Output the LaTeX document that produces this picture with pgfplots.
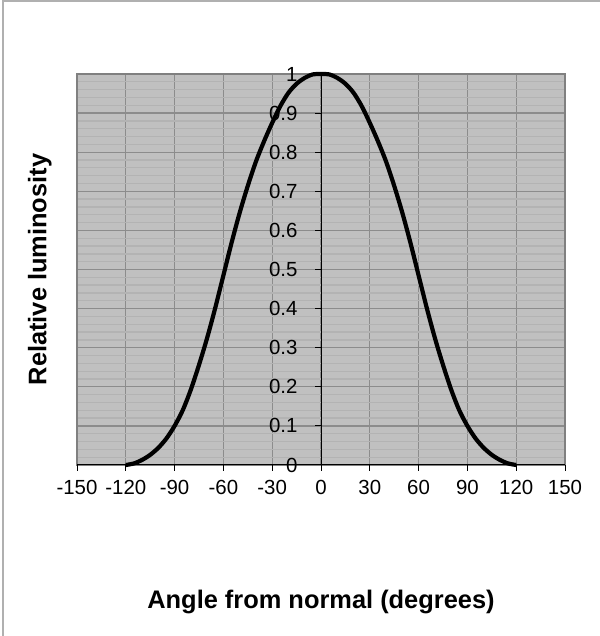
\documentclass[border=0pt]{standalone}
\usepackage{pgfplots}
\pgfplotsset{compat=1.18}
\usepackage{fontspec}
\setmainfont{Liberation Sans}

\definecolor{plotbg}{HTML}{C0C0C0}
\definecolor{minorgrid}{HTML}{B3B3B3}
\definecolor{majorgrid}{HTML}{8C8C8C}
\definecolor{boxgray}{HTML}{808080}
\definecolor{framegray}{HTML}{B0B0B0}

\pgfplotstableread{
angle lum
-120 0
-115 0.004
-110 0.013
-105 0.026
-100 0.044
-95 0.068
-90 0.1
-85 0.14
-80 0.193
-75 0.256
-70 0.325
-65 0.402
-60 0.485
-55 0.568
-50 0.645
-45 0.714
-40 0.776
-35 0.828
-30 0.875
-25 0.918
-20 0.952
-15 0.975
-10 0.99
-5 0.999
0 1
5 0.999
10 0.99
15 0.975
20 0.952
25 0.918
30 0.875
35 0.828
40 0.776
45 0.714
50 0.645
55 0.568
60 0.485
65 0.402
70 0.325
75 0.256
80 0.193
85 0.14
90 0.1
95 0.068
100 0.044
105 0.026
110 0.013
115 0.004
120 0
}\lumdata

\begin{document}
\begin{tikzpicture}
\path[use as bounding box] (0,0) rectangle (600bp,636bp);
\draw[framegray, line width=1.2bp] (3bp,0) -- (3bp,635bp) -- (600bp,635bp);

% background, grid and frame
\begin{axis}[
    scale only axis, width=488bp, height=391bp,
    at={(77bp,171bp)}, anchor=south west,
    xmin=-150, xmax=150, ymin=0, ymax=1,
    xtick={-150,-120,...,150}, ytick={0,0.1,0.2,0.3,0.4,0.5,0.6,0.7,0.8,0.9,1},
    minor y tick num=4,
    xticklabels={}, yticklabels={},
    major tick length=0pt, minor tick length=0pt,
    grid=both,
    major grid style={majorgrid, line width=1.3bp},
    minor grid style={minorgrid, line width=1.3bp},
    axis background/.style={fill=plotbg},
    axis line style={boxgray, line width=1.6bp},
]
\end{axis}

% axes, ticks and curve
\begin{axis}[
    scale only axis, width=488bp, height=391bp,
    at={(77bp,171bp)}, anchor=south west,
    xmin=-150, xmax=150, ymin=0, ymax=1,
    axis lines=center,
    axis line style={black, line width=1bp, -},
    xtick={-150,-120,...,150}, ytick={0,0.1,0.2,0.3,0.4,0.5,0.6,0.7,0.8,0.9,1},
    hide obscured x ticks=false, hide obscured y ticks=false,
    tick align=outside, major tick length=6bp,
    tick style={black, line width=1bp},
    /pgf/number format/assume math mode=true,
    ticklabel style={font=\fontsize{20.5}{24}\selectfont},
    xticklabel style={yshift=-6bp},
    yticklabel style={xshift=-14bp},
    xlabel={Angle from normal (degrees)},
    ylabel={Relative luminosity},
    label style={font=\fontsize{25.5}{30}\selectfont\bfseries},
    xlabel style={at={(axis description cs:0.5,-0.35)}, anchor=center},
    ylabel style={at={(axis description cs:-0.076,0.5)}, rotate=90, anchor=center},
    clip=false,
]
\addplot[black, line width=4.2bp, smooth] table[x=angle, y=lum] {\lumdata};
\end{axis}
\end{tikzpicture}
\end{document}
